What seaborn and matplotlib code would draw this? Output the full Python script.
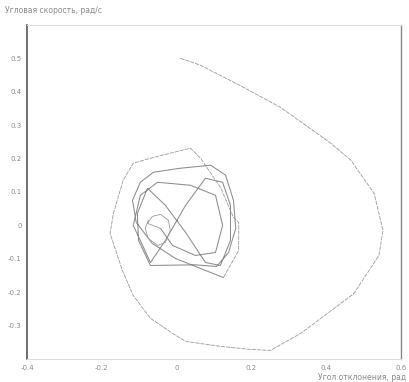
import numpy as np
import pandas as pd
import matplotlib
matplotlib.use("Agg")
import matplotlib.pyplot as plt
import seaborn as sns

# phase trajectory: angle (rad) vs angular velocity (rad/s)
outer_angle = [0.010, 0.064, 0.179, 0.278, 0.412, 0.466, 0.528, 0.552, 0.541, 0.474,
               0.332, 0.251, 0.198, 0.117, 0.024, -0.011, -0.070, -0.116, -0.145, -0.178,
               -0.169, -0.143, -0.116, -0.070, 0.037, 0.064, 0.117, 0.152, 0.166, 0.166, 0.125]
outer_velocity = [0.500, 0.479, 0.413, 0.353, 0.246, 0.195, 0.096, -0.015, -0.090, -0.204,
                  -0.323, -0.374, -0.371, -0.362, -0.347, -0.323, -0.278, -0.210, -0.135, -0.024,
                  0.036, 0.135, 0.186, 0.201, 0.231, 0.201, 0.114, 0.024, 0.009, -0.075, -0.156]

tangle_angle = [0.125, 0.064, -0.003, -0.065, -0.108, -0.118, -0.097, -0.062, 0.010, 0.091,
                0.131, 0.152, 0.158, 0.139, 0.107, 0.050, -0.070, -0.102, -0.105, -0.078,
                -0.030, 0.024, 0.077, 0.117, 0.144, 0.144, 0.123, 0.077, 0.024, -0.030,
                -0.070, -0.116, -0.097, -0.051, 0.037, 0.104, 0.123, 0.104, 0.050, -0.011,
                -0.043]
tangle_velocity = [-0.156, -0.129, -0.099, -0.054, 0.009, 0.075, 0.129, 0.159, 0.171, 0.180,
                   0.150, 0.075, -0.009, -0.081, -0.123, -0.118, -0.120, -0.045, 0.036, 0.111,
                   0.060, -0.021, -0.111, -0.120, -0.045, 0.060, 0.129, 0.141, 0.060, -0.045,
                   -0.111, 0.000, 0.090, 0.129, 0.120, 0.090, 0.000, -0.081, -0.090, -0.060,
                   -0.009]

loop_angle = [-0.043, -0.078, -0.065, -0.043, -0.022, -0.017, -0.030, -0.051, -0.076, -0.084, -0.076]
loop_velocity = [-0.009, 0.006, 0.027, 0.033, 0.015, -0.015, -0.051, -0.060, -0.039, -0.009, 0.015]

x_ticks = [-0.4, -0.2, 0, 0.2, 0.4, 0.6]
x_tick_labels = ["-0.4", "-0.2", "0", "0.2", "0.4", "0.6"]
y_ticks = [-0.3, -0.2, -0.1, 0, 0.1, 0.2, 0.3, 0.4, 0.5]
y_tick_labels = ["-0.3", "-0.2", "-0.1", "0", "0.1", "0.2", "0.3", "0.4", "0.5"]

sns.set_theme(style="white")
plt.rcParams['font.family'] = ['DejaVu Sans']

fig = plt.figure(figsize=(4.10, 3.82), dpi=100)
ax = fig.add_axes([0.066, 0.060, 0.912, 0.875])

# outer spiral looks dashed in the scan, inner loops solid
segments = [(outer_angle, outer_velocity, 0.6, '#9a9a9a', (0, (5, 1.2))),
            (tangle_angle, tangle_velocity, 0.75, '#8c8c8c', '-'),
            (loop_angle, loop_velocity, 0.6, '#9a9a9a', '-')]
for xs, ys, lw, col, ls in segments:
    df = pd.DataFrame({'angle': xs, 'velocity': ys})
    sns.lineplot(data=df, x='angle', y='velocity', sort=False, estimator=None,
                 color=col, linewidth=lw, linestyle=ls, ax=ax)

ax.set_xlim(-0.4, 0.6)
ax.set_ylim(-0.4, 0.6)
ax.set_xticks(x_ticks)
ax.set_xticklabels(x_tick_labels)
ax.set_yticks(y_ticks)
ax.set_yticklabels(y_tick_labels)
ax.tick_params(axis='both', labelsize=5, colors='#8a8a8a', length=2, width=0.5, pad=2)
ax.set_xlabel('')
ax.set_ylabel('')

ax.spines['left'].set_color('#555555')
ax.spines['left'].set_linewidth(1.2)
ax.spines['right'].set_color('#888888')
ax.spines['right'].set_linewidth(1.0)
ax.spines['top'].set_color('#dddddd')
ax.spines['top'].set_linewidth(0.8)
ax.spines['bottom'].set_color('#dddddd')
ax.spines['bottom'].set_linewidth(0.8)

fig.text(0.012, 0.972, 'Угловая скорость, рад/с', fontsize=5.5, color='#8a8a8a',
         ha='left', va='center')
fig.text(0.99, 0.012, 'Угол отклонения, рад', fontsize=5.5, color='#8a8a8a',
         ha='right', va='center')

fig.savefig('out.png', dpi=100, facecolor='white')
